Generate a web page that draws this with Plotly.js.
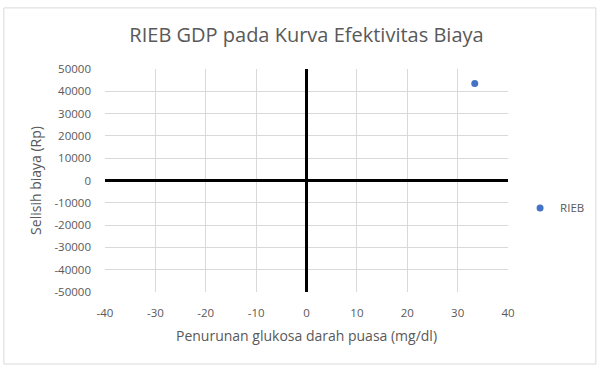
<!DOCTYPE html>
<html><head><meta charset="utf-8">
<script src="https://cdn.plot.ly/plotly-3.0.1.min.js"></script>
<style>body{margin:0;background:#fff}#c{width:600px;height:372px}</style>
</head><body><div id="c"></div>
<script>
const seriesName = "RIEB";
const xVals = [33.4];
const yVals = [43500];
const xTicks = [-40,-30,-20,-10,0,10,20,30,40];
const yTicks = [-50000,-40000,-30000,-20000,-10000,0,10000,20000,30000,40000,50000];
const titleText = "RIEB GDP pada Kurva Efektivitas Biaya";
const xTitle = "Penurunan glukosa darah puasa (mg/dl)";
const yTitle = "Selisih biaya (Rp)";

const font = "Open Sans, Liberation Sans, sans-serif";
const data = [{
  type: "scatter", mode: "markers", name: seriesName,
  x: xVals, y: yVals,
  marker: {color: "#4472c4", size: 7}
}];
const layout = {
  width: 600, height: 372,
  margin: {l: 105, r: 92, t: 69, b: 80, autoexpand: false},
  paper_bgcolor: "#fff", plot_bgcolor: "#fff",
  font: {family: font, color: "#595959", size: 11},
  title: {text: titleText, font: {family: font, size: 20, color: "#595959"}, x: 0.5, xanchor: "center", xref: "paper", y: 0.906, yanchor: "middle"},
  xaxis: {
    range: [-40, 40], tickvals: xTicks, ticktext: xTicks.map(String),
    showgrid: true, gridcolor: "#d9d9d9", gridwidth: 1,
    zeroline: true, zerolinecolor: "#000", zerolinewidth: 2.5,
    showline: false, ticks: "", ticklabelstandoff: 12, tickfont: {size: 11.5, color: "#595959"},
    title: {text: xTitle, font: {size: 14, color: "#595959"}, standoff: 12},
    fixedrange: true
  },
  yaxis: {
    range: [-50000, 50000], tickvals: yTicks, ticktext: yTicks.map(String),
    showgrid: true, gridcolor: "#d9d9d9", gridwidth: 1,
    zeroline: true, zerolinecolor: "#000", zerolinewidth: 2.5,
    showline: false, ticks: "", ticklabelstandoff: 13, tickfont: {size: 11.5, color: "#595959"},
    title: {text: yTitle, font: {size: 14, color: "#595959"}, standoff: 9},
    fixedrange: true
  },
  showlegend: true,
  legend: {x: 1.03, y: 0.377, xanchor: "left", yanchor: "middle", font: {size: 11.5, color: "#595959"}, bgcolor: "rgba(0,0,0,0)", itemwidth: 30},
  shapes: [{type: "rect", xref: "paper", yref: "paper", x0: -0.251, x1: 1.218, y0: -0.323, y1: 1.274, line: {color: "#d9d9d9", width: 1}}]
};
Plotly.newPlot("c", data, layout, {displayModeBar: false, staticPlot: true});
</script></body></html>
